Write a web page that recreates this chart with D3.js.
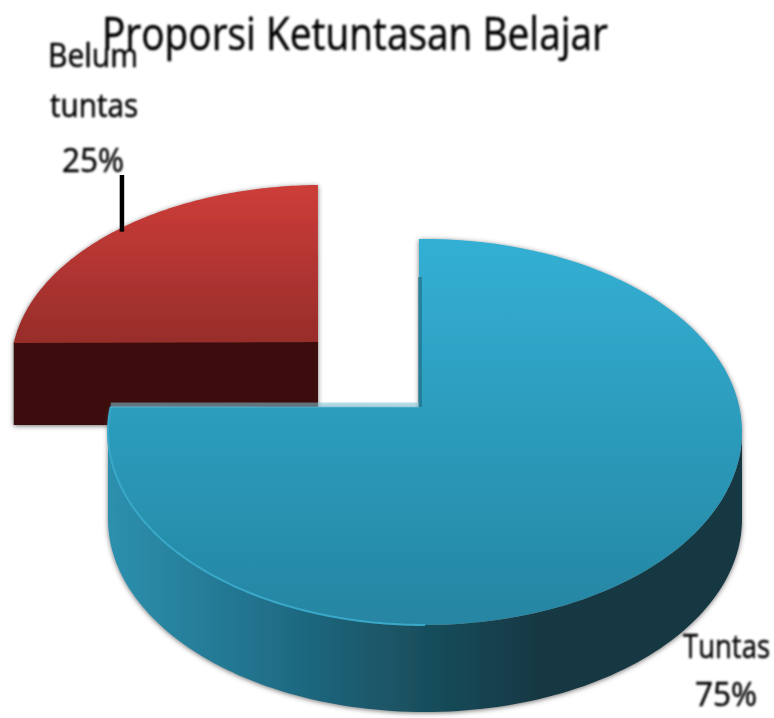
<!DOCTYPE html>
<html>
<head>
<meta charset="utf-8">
<style>
  html, body { margin: 0; padding: 0; background: #fff; }
  text { font-family: "Open Sans", sans-serif; fill: #000; stroke: #000; stroke-width: 0.5; }
</style>
<script src="https://cdn.jsdelivr.net/npm/d3@7"></script>
</head>
<body>
<div id="chart"></div>
<script>
// chart data
var titleText = "Proporsi Ketuntasan Belajar";
var categories = ["Tuntas", "Belum tuntas"];
var values = [75, 25];

var width = 774, height = 718;

var svg = d3.select("#chart").append("svg")
    .attr("width", width)
    .attr("height", height)
    .style("display", "block");

var defs = svg.append("defs");

// soft grey edge round the solid parts, and the blur of the low-res text
var shadow = defs.append("filter").attr("id", "edge")
    .attr("x", "-5%").attr("y", "-5%").attr("width", "110%").attr("height", "110%");
shadow.append("feDropShadow")
    .attr("dx", 0).attr("dy", 1)
    .attr("stdDeviation", 2.6)
    .attr("flood-color", "#444")
    .attr("flood-opacity", 0.75);
defs.append("filter").attr("id", "soft")
    .append("feGaussianBlur").attr("stdDeviation", 0.9);

function gradient(id, x1, y1, x2, y2, stops) {
  var g = defs.append("linearGradient").attr("id", id)
      .attr("gradientUnits", "userSpaceOnUse")
      .attr("x1", x1).attr("y1", y1).attr("x2", x2).attr("y2", y2);
  stops.forEach(function(s) {
    g.append("stop").attr("offset", s[0]).attr("stop-color", s[1]);
  });
}
gradient("blueTop", 0, 239, 0, 625, [[0, "#33b0d4"], [1, "#2585a2"]]);
gradient("blueWall", 108, 0, 742, 0, [[0, "#2d90ae"], [0.25, "#20708a"], [0.45, "#1b5465"], [0.68, "#123843"], [1, "#123843"]]);
gradient("redTop", 0, 185, 0, 342, [[0, "#cd3d39"], [1, "#972d2a"]]);

// the pie gives the angles, each slice has its own exploded ellipse
var slices = d3.pie().sort(null).value(function(d) { return d; })(values);
var shapes = [
  {cx: 425, cy: 432, rx: 317, ry: 193, apexX: 419, apexY: 407, depth: 87},
  {cx: 322, cy: 367, rx: 311, ry: 182, apexX: 318, apexY: 342, depth: 83}
];

// the seam between the slices sits a little above the ellipse centre,
// and the straight edges at the top stand just left of it
var seam = slices[0].endAngle;
var tilt = d3.scaleLinear()
    .domain([0, seam, 2 * Math.PI])
    .range([-0.019, seam + 0.132, 2 * Math.PI - 0.013]);

function rimPoint(shape, t, drop) {
  return [shape.cx + shape.rx * Math.sin(t),
          shape.cy - shape.ry * Math.cos(t) + (drop || 0)];
}

function rim(shape, t0, t1, drop) {
  return d3.range(0, 121).map(function(i) {
    return rimPoint(shape, t0 + (t1 - t0) * i / 120, drop);
  });
}

var line = d3.line();

function facePath(slice, shape) {
  var pts = rim(shape, tilt(slice.startAngle), tilt(slice.endAngle));
  pts.push([shape.apexX, shape.apexY]);
  return line(pts) + "Z";
}

// ---- Belum tuntas
var red = slices[1], redShape = shapes[1];
var redLeft = rimPoint(redShape, tilt(red.startAngle));
var redGroup = svg.append("g").attr("filter", "url(#edge)");

redGroup.append("rect")
    .attr("x", redLeft[0])
    .attr("y", redShape.apexY)
    .attr("width", redShape.apexX - redLeft[0])
    .attr("height", redShape.depth)
    .attr("fill", "#3e1110");

redGroup.append("path")
    .attr("d", facePath(red, redShape))
    .attr("fill", "url(#redTop)");

// ---- Tuntas
var blue = slices[0], blueShape = shapes[0];
var blueGroup = svg.append("g").attr("filter", "url(#edge)");

var wallTop = rim(blueShape, Math.PI / 2, 3 * Math.PI / 2);
var wallBottom = rim(blueShape, 3 * Math.PI / 2, Math.PI / 2, blueShape.depth);
blueGroup.append("path")
    .attr("d", line(wallTop.concat(wallBottom)) + "Z")
    .attr("fill", "url(#blueWall)");

blueGroup.append("path")
    .attr("d", facePath(blue, blueShape))
    .attr("fill", "url(#blueTop)");

// lit rim on the lower left of the blue face
svg.append("path")
    .attr("d", line(rim(blueShape, Math.PI, tilt(blue.endAngle))))
    .attr("fill", "none")
    .attr("stroke", "#3aa8c8")
    .attr("stroke-width", 2);

// edges of the cut-out
svg.append("line")
    .attr("x1", blueShape.apexX + 1).attr("x2", blueShape.apexX + 1)
    .attr("y1", blueShape.apexY).attr("y2", blueShape.apexY - 130)
    .attr("stroke", "#1d6a80").attr("stroke-width", 4).attr("opacity", 0.6);
svg.append("line")
    .attr("x1", rimPoint(blueShape, tilt(blue.endAngle))[0]).attr("x2", blueShape.apexX)
    .attr("y1", blueShape.apexY - 2).attr("y2", blueShape.apexY - 2)
    .attr("stroke", "#7fc6d8").attr("stroke-width", 5).attr("opacity", 0.55);

// leader line of the red label
var leaderEnd = rimPoint(redShape, tilt(red.startAngle) + 0.74);
svg.append("line")
    .attr("x1", leaderEnd[0]).attr("x2", leaderEnd[0])
    .attr("y1", 175).attr("y2", leaderEnd[1] + 4)
    .attr("stroke", "#000").attr("stroke-width", 4.5);

// ---- texts
var texts = svg.append("g").attr("filter", "url(#soft)");

function label(str, x, y, size, len) {
  texts.append("text")
      .attr("x", x).attr("y", y)
      .attr("font-size", size)
      .attr("textLength", len)
      .attr("lengthAdjust", "spacingAndGlyphs")
      .text(str);
}

var pct = function(v) { return v + "%"; };
var redWords = categories[1].split(" ");

label(redWords[0], 48, 67, 32, 90);
label(redWords[1], 50, 117, 32, 88);
label(pct(values[1]), 62, 172, 32, 62);
label(categories[0], 683, 658, 32, 87);
label(pct(values[0]), 695, 706, 32, 62);
label(titleText, 102, 50, 46, 506);
</script>
</body>
</html>
